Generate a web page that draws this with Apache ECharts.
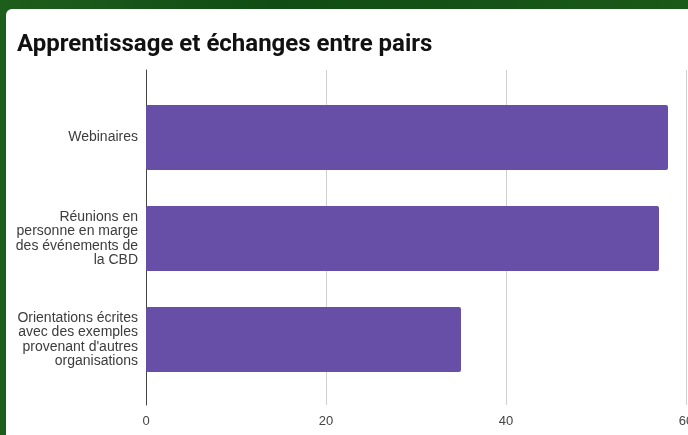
<!DOCTYPE html>
<html>
<head>
<meta charset="utf-8">
<script src="https://cdn.jsdelivr.net/npm/echarts@6/dist/echarts.min.js"></script>
<style>
  html, body { margin: 0; padding: 0; width: 688px; height: 435px; overflow: hidden;
    background: linear-gradient(90deg, #1d5e1c 0%, #0f4d14 40%, #1a5a18 100%); }
  #card { position: absolute; left: 6px; top: 9px; width: 700px; height: 440px; background: #fff; border-radius: 6px; }
  #chart { position: absolute; left: 0; top: 0; width: 688px; height: 435px; }
</style>
</head>
<body>
<div id="card"></div>
<div id="chart"></div>
<script>
// Apprentissage et échanges entre pairs — horizontal bars
const categories = [
  'Webinaires',
  'Réunions en\npersonne en marge\ndes événements de\nla CBD',
  'Orientations écrites\navec des exemples\nprovenant d\'autres\norganisations'
];
const values = [58, 57, 35];
const xTicks = [0, 20, 40, 60];

const L = 146, R = 2;
const chart = echarts.init(document.getElementById('chart'), null, { renderer: 'canvas' });
chart.setOption({
  animation: false,
  backgroundColor: 'transparent',
  title: {
    text: 'Apprentissage et échanges entre pairs', left: 12, top: 28,
    textStyle: { fontFamily: 'Roboto', fontSize: 24, fontWeight: 'bold', color: '#111' }
  },
  // grid 0 holds the bars, grid 1 only draws the taller gridlines + tick labels
  grid: [
    { left: L, right: R, top: 87, bottom: 45, containLabel: false, outerBoundsMode: 'none' },
    { left: L, right: R, top: 70, bottom: 30, containLabel: false, outerBoundsMode: 'none' }
  ],
  xAxis: [
    { gridIndex: 0, type: 'value', min: xTicks[0], max: xTicks[xTicks.length - 1], interval: 20,
      axisLine: { show: false }, axisTick: { show: false }, axisLabel: { show: false }, splitLine: { show: false } },
    { gridIndex: 1, type: 'value', min: xTicks[0], max: xTicks[xTicks.length - 1], interval: 20,
      axisLine: { show: false }, axisTick: { show: false },
      axisLabel: { fontFamily: 'Liberation Sans', fontSize: 13, color: '#444', margin: 10 },
      splitLine: { lineStyle: { color: '#d0d0d0', width: 1 } } }
  ],
  yAxis: [
    { gridIndex: 0, type: 'category', inverse: true, data: categories,
      axisLine: { show: false }, axisTick: { show: false },
      axisLabel: { fontFamily: 'Liberation Sans', fontSize: 14, color: '#3c3c3c', lineHeight: 14.5, align: 'right', margin: 8 } },
    { gridIndex: 1, type: 'category', data: [''], show: true,
      axisLine: { show: true, lineStyle: { color: '#444', width: 1 } }, axisTick: { show: false }, axisLabel: { show: false } }
  ],
  series: [{
    type: 'bar', xAxisIndex: 0, yAxisIndex: 0, data: values, barWidth: 65,
    itemStyle: { color: '#674ea7', borderRadius: 2 }
  }]
});
</script>
</body>
</html>
